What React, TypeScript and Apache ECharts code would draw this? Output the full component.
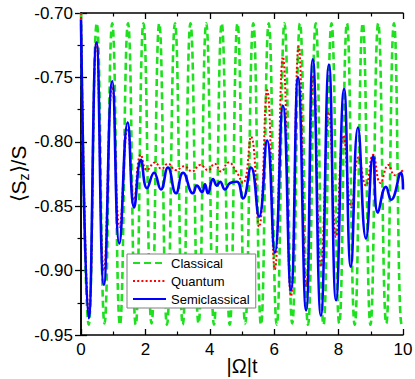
import { useEffect, useRef } from "react";
import * as echarts from "echarts";

// |Omega| t axis range and ticks
const xMin = 0;
const xMax = 10;
const xStep = 2;
const yMin = -0.95;
const yMax = -0.7;
const yStep = 0.05;

// Classical (green dashed): extrema
const classicalT = [
  0, 0.24, 0.49, 0.73, 0.97, 1.21, 1.46, 1.7, 1.94, 2.19, 2.43, 2.67, 2.92, 3.16,
  3.4, 3.65, 3.89, 4.13, 4.37, 4.62, 4.86, 5.1, 5.35, 5.59, 5.83, 6.08, 6.32, 6.56,
  6.8, 7.05, 7.29, 7.53, 7.78, 8.02, 8.26, 8.5, 8.75, 8.99, 9.23, 9.48, 9.72, 9.96, 10,
];
const classicalV = [
  -0.7, -0.942, -0.708, -0.941, -0.708, -0.942, -0.708, -0.942, -0.708, -0.941,
  -0.708, -0.942, -0.708, -0.942, -0.708, -0.941, -0.708, -0.942, -0.708, -0.942,
  -0.708, -0.941, -0.708, -0.942, -0.708, -0.942, -0.708, -0.941, -0.708, -0.942,
  -0.708, -0.942, -0.708, -0.941, -0.708, -0.942, -0.708, -0.942, -0.708, -0.941,
  -0.708, -0.942, -0.94,
];

// Quantum (red dotted)
const quantumT = [
  0, 0.25, 0.48, 0.71, 0.97, 1.2, 1.45, 1.65, 1.86, 2.05, 2.3, 2.5, 2.7, 2.95, 3.2,
  3.45, 3.7, 3.95, 4.15, 4.35, 4.58, 4.82, 5.03, 5.28, 5.53, 5.78, 6.02, 6.27, 6.52,
  6.76, 7.0, 7.22, 7.45, 7.7, 7.92, 8.15, 8.4, 8.62, 8.85, 9.07, 9.3, 9.55, 9.75, 10,
];
const quantumV = [
  -0.7, -0.934, -0.722, -0.9, -0.757, -0.866, -0.79, -0.845, -0.81, -0.822, -0.816,
  -0.821, -0.817, -0.822, -0.819, -0.823, -0.818, -0.822, -0.817, -0.823, -0.816,
  -0.823, -0.832, -0.796, -0.866, -0.76, -0.899, -0.734, -0.92, -0.726, -0.912,
  -0.748, -0.897, -0.777, -0.874, -0.795, -0.851, -0.812, -0.834, -0.81, -0.832,
  -0.818, -0.826, -0.822,
];

// Semiclassical (blue solid)
const semiT = [
  0, 0.24, 0.48, 0.71, 0.97, 1.19, 1.45, 1.65, 1.86, 2.05, 2.27, 2.48, 2.7, 2.95,
  3.17, 3.48, 3.6, 3.76, 3.85, 3.94, 4.1, 4.22, 4.32, 4.47, 4.63, 4.84, 5.03, 5.28,
  5.53, 5.78, 6.02, 6.27, 6.52, 6.74, 6.99, 7.2, 7.45, 7.7, 7.92, 8.17, 8.38, 8.6,
  8.85, 9.07, 9.22, 9.47, 9.63, 9.94, 10,
];
const semiV = [
  -0.705, -0.937, -0.723, -0.911, -0.753, -0.879, -0.785, -0.851, -0.814, -0.836,
  -0.824, -0.837, -0.82, -0.84, -0.824, -0.84, -0.834, -0.839, -0.833, -0.84,
  -0.829, -0.834, -0.831, -0.837, -0.832, -0.831, -0.844, -0.82, -0.858, -0.799,
  -0.886, -0.772, -0.915, -0.75, -0.931, -0.736, -0.935, -0.74, -0.923, -0.759,
  -0.897, -0.789, -0.875, -0.811, -0.855, -0.835, -0.845, -0.824, -0.837,
];

const seriesNames = ["Classical", "Quantum", "Semiclassical"];

const zip = (t: number[], v: number[]) => t.map((x, i) => [x, v[i]]);

const FONT = "'Liberation Sans', Arial, Helvetica, sans-serif";

export default function App() {
  const ref = useRef<HTMLDivElement>(null);
  useEffect(() => {
    document.body.style.margin = "0";
    if (!ref.current) return;
    const chart = echarts.init(ref.current, undefined, { renderer: "svg" });
    const axisLine = { show: true, lineStyle: { color: "#000", width: 1.5 } };
    const axisTick = { show: true, inside: true, length: 6, lineStyle: { color: "#000", width: 1.3 } };
    const minorTick = { show: true, splitNumber: 2, length: 3.5, lineStyle: { color: "#000", width: 1.2 } };
    chart.setOption({
      animation: false,
      backgroundColor: "#fff",
      textStyle: { fontFamily: FONT },
      grid: { left: 81, right: 12, top: 13, bottom: 44, outerBoundsMode: "none" },
      legend: {
        data: seriesNames,
        orient: "vertical",
        left: 127,
        top: 254,
        padding: [1, 6, 1, 5],
        itemGap: 2,
        itemWidth: 33,
        itemHeight: 14,
        backgroundColor: "#fff",
        borderColor: "#808080",
        borderWidth: 1,
        itemStyle: { color: "transparent", borderWidth: 0, opacity: 0 },
        textStyle: { fontSize: 13, lineHeight: 16, color: "#000", fontFamily: FONT },
      },
      xAxis: [
        {
          type: "value",
          min: xMin,
          max: xMax,
          interval: xStep,
          name: "|Ω|t",
          nameLocation: "middle",
          nameGap: 21,
          nameMoveOverlap: false,
          nameTextStyle: { fontSize: 20, color: "#000", fontFamily: FONT },
          axisLine,
          axisTick,
          minorTick,
          splitLine: { show: false },
          axisLabel: { fontSize: 17, color: "#000", margin: 6, fontFamily: FONT },
        },
        {
          type: "value",
          position: "top",
          min: xMin,
          max: xMax,
          interval: xStep,
          axisLine,
          axisTick,
          minorTick,
          splitLine: { show: false },
          axisLabel: { show: false },
        },
      ],
      yAxis: [
        {
          type: "value",
          min: yMin,
          max: yMax,
          interval: yStep,
          name: "{a|⟨S}{z|z}{a|⟩/S}",
          nameLocation: "middle",
          nameGap: 52,
          nameMoveOverlap: false,
          nameRotate: 90,
          nameTextStyle: {
            color: "#000",
            fontFamily: FONT,
            rich: {
              a: { fontSize: 21, lineHeight: 21, verticalAlign: "top", fontFamily: FONT, color: "#000" },
              z: { fontSize: 14, lineHeight: 14, padding: [9, 0, 0, 0], verticalAlign: "top", fontFamily: FONT, color: "#000" },
            },
          },
          axisLine,
          axisTick,
          minorTick,
          splitLine: { show: false },
          axisLabel: {
            fontSize: 17,
            color: "#000",
            margin: 8,
            fontFamily: FONT,
            formatter: (v: number) => v.toFixed(2),
          },
        },
        {
          type: "value",
          position: "right",
          min: yMin,
          max: yMax,
          interval: yStep,
          axisLine,
          axisTick,
          minorTick,
          splitLine: { show: false },
          axisLabel: { show: false },
        },
      ],
      series: [
        {
          name: seriesNames[0],
          type: "line",
          data: zip(classicalT, classicalV),
          smooth: 0.5,
          symbol: "none",
          lineStyle: { color: "#1ee01e", width: 2.6, type: [7, 4] },
          itemStyle: { color: "#1ee01e" },
          z: 2,
        },
        {
          name: seriesNames[1],
          type: "line",
          data: zip(quantumT, quantumV),
          smooth: 0.5,
          symbol: "none",
          lineStyle: { color: "#ff0000", width: 2, type: [2, 2.2] },
          itemStyle: { color: "#ff0000" },
          z: 3,
        },
        {
          name: seriesNames[2],
          type: "line",
          data: zip(semiT, semiV),
          smooth: 0.5,
          symbol: "none",
          lineStyle: { color: "#0000ff", width: 2.6 },
          itemStyle: { color: "#0000ff" },
          z: 4,
        },
      ],
    });
    return () => chart.dispose();
  }, []);
  return <div ref={ref} style={{ width: 415, height: 379 }} />;
}
